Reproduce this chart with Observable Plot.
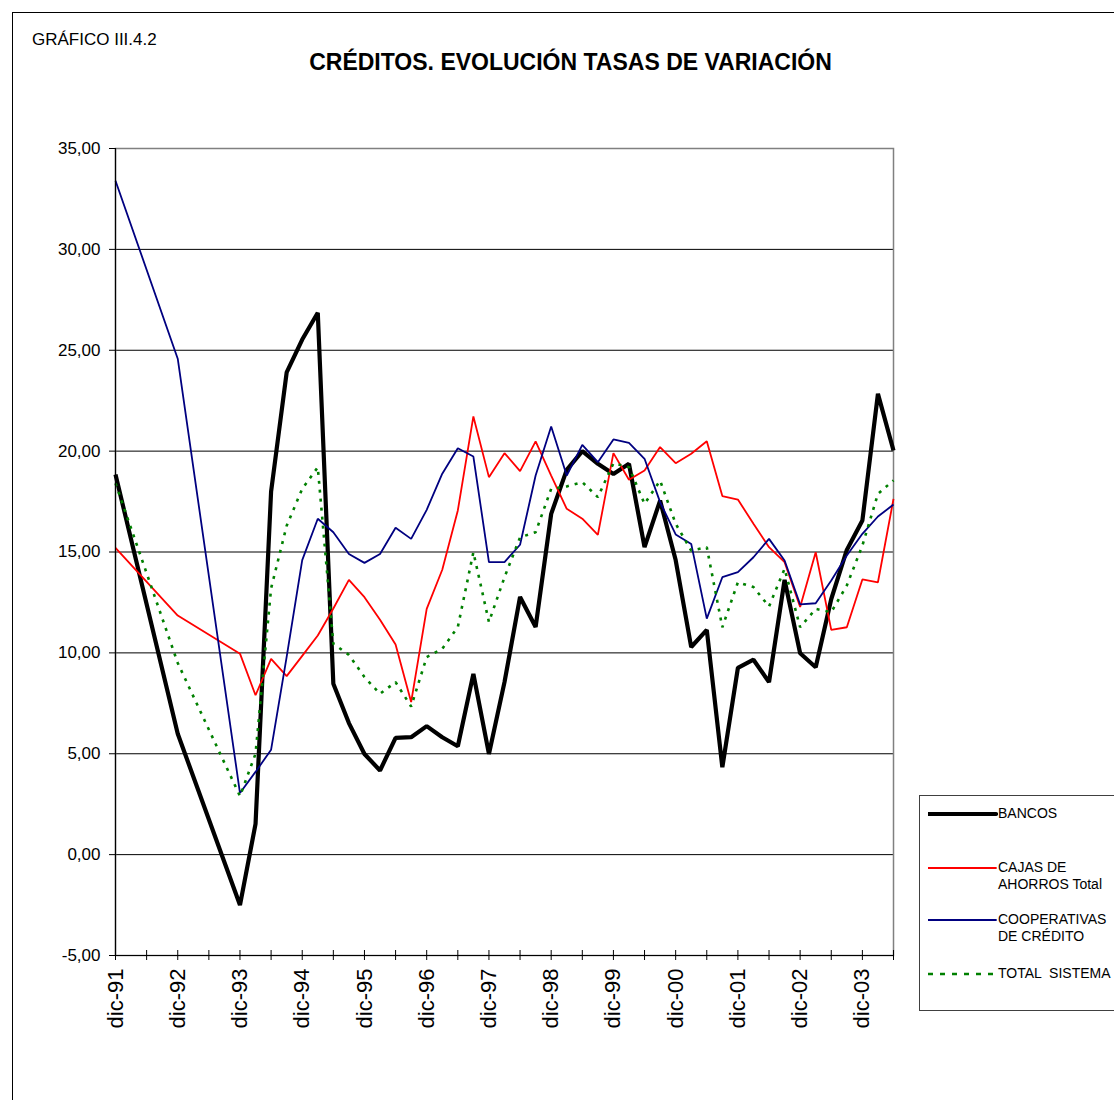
<!DOCTYPE html>
<html>
<head>
<meta charset="utf-8">
<script src="https://cdn.jsdelivr.net/npm/d3@7"></script>
<script src="https://cdn.jsdelivr.net/npm/@observablehq/plot@0.6"></script>
<style>
  html, body { margin: 0; padding: 0; background: #fff; overflow: hidden; }
  body { width: 1114px; height: 1100px; position: relative; font-family: "Liberation Sans", Arial, sans-serif; }
  #frame { position: absolute; left: 12px; top: 12px; width: 1200px; height: 1200px; border-left: 1px solid #000; border-top: 1px solid #000; }
  #chart { position: absolute; left: 0; top: 0; }
  #label { position: absolute; left: 32px; top: 30px; font-size: 17px; color: #000; white-space: nowrap; }
  #title { position: absolute; left: 0; width: 1141px; top: 49px; text-align: center; font-size: 23px; font-weight: bold; color: #000; white-space: nowrap; }
  #legend { position: absolute; left: 919px; top: 795px; width: 300px; height: 214px; border: 1px solid #404040; }
  .lg-text { position: absolute; left: 78px; font-size: 14px; line-height: 17px; color: #000; white-space: pre; }
  .lg-svg { position: absolute; left: 8px; }
</style>
</head>
<body>
<div id="frame"></div>
<div id="chart"></div>
<div id="label">GRÁFICO III.4.2</div>
<div id="title">CRÉDITOS. EVOLUCIÓN TASAS DE VARIACIÓN</div>
<div id="legend"></div>
<script>
// Periods (annual first, then quarterly)
const periods = ["dic-91","dic-92","dic-93","mar-94","jun-94","sep-94","dic-94","mar-95","jun-95","sep-95","dic-95","mar-96","jun-96","sep-96","dic-96","mar-97","jun-97","sep-97","dic-97","mar-98","jun-98","sep-98","dic-98","mar-99","jun-99","sep-99","dic-99","mar-00","jun-00","sep-00","dic-00","mar-01","jun-01","sep-01","dic-01","mar-02","jun-02","sep-02","dic-02","mar-03","jun-03","sep-03","dic-03","mar-04","jun-04"];

const bancos = [18.84, 5.99, -2.5, 1.52, 18.0, 23.9, 25.53, 26.86, 8.47, 6.52, 4.99, 4.17, 5.79, 5.82, 6.37, 5.82, 5.37, 8.96, 4.99, 8.55, 12.77, 11.28, 16.89, 19.07, 20.0, 19.37, 18.87, 19.37, 15.24, 17.55, 14.6, 10.29, 11.14, 4.33, 9.26, 9.66, 8.55, 13.62, 9.98, 9.29, 12.67, 15.1, 16.56, 22.84, 20.03];
const cajas = [15.2, 11.85, 9.96, 7.9, 9.7, 8.85, 9.85, 10.86, 12.2, 13.62, 12.76, 11.64, 10.42, 7.56, 12.18, 14.12, 17.06, 21.72, 18.71, 19.9, 19.01, 20.48, 18.79, 17.14, 16.65, 15.85, 19.9, 18.58, 19.04, 20.2, 19.4, 19.87, 20.49, 17.77, 17.6, 16.4, 15.24, 14.5, 12.27, 14.99, 11.14, 11.27, 13.64, 13.5, 17.63];
const cooperativas = [33.4, 24.58, 3.05, 4.1, 5.2, 9.8, 14.6, 16.65, 15.98, 14.9, 14.46, 14.9, 16.2, 15.65, 17.09, 18.88, 20.14, 19.73, 14.5, 14.5, 15.36, 18.79, 21.22, 18.79, 20.31, 19.45, 20.58, 20.41, 19.62, 17.47, 15.87, 15.4, 11.7, 13.75, 14.0, 14.74, 15.65, 14.58, 12.4, 12.46, 13.59, 14.83, 15.9, 16.76, 17.35];
const totalSistema = [18.4, 9.5, 2.9, 5.0, 13.2, 16.3, 18.13, 19.2, 10.45, 9.9, 8.8, 7.97, 8.55, 7.34, 9.79, 10.2, 11.28, 14.99, 11.53, 13.75, 15.73, 15.98, 18.13, 18.25, 18.46, 17.72, 19.4, 19.2, 17.39, 18.54, 16.4, 15.07, 15.24, 11.27, 13.5, 13.26, 12.3, 14.17, 11.27, 12.18, 12.02, 13.34, 15.32, 17.88, 18.55];

const seriesNames = ["BANCOS", "CAJAS DE\nAHORROS Total", "COOPERATIVAS\nDE CRÉDITO", "TOTAL  SISTEMA"];
const yTicks = [-5, 0, 5, 10, 15, 20, 25, 30, 35];

// quarter index: dic-91 = 0
const monthQ = {mar: 1, jun: 2, sep: 3, dic: 4};
function qIndex(p) {
  const [m, y] = p.split("-");
  const yy = +y < 50 ? 2000 + +y : 1900 + +y;
  return (yy - 1992) * 4 + monthQ[m];
}
const xs = periods.map(qIndex);
const labelOf = new Map(periods.map(p => [qIndex(p), p]));
const maxQ = d3.max(xs);
const semesterTicks = d3.range(0, maxQ + 1, 2);
const yearTicks = d3.range(0, maxQ + 1, 4);
const yearLabel = i => labelOf.get(i) ?? ("dic-" + String((1991 + i / 4) % 100).padStart(2, "0"));

const allSeries = [bancos, cajas, cooperativas, totalSistema];
const data = [];
allSeries.forEach((vals, s) => vals.forEach((v, i) => data.push({x: xs[i], y: v, s})));

const styles = [
  {stroke: "#000000", strokeWidth: 4.2},
  {stroke: "#FF0000", strokeWidth: 1.8},
  {stroke: "#000080", strokeWidth: 1.8},
  {stroke: "#008000", strokeWidth: 2.6, strokeDasharray: "3,6"}
];

const chart = Plot.plot({
  width: 1114,
  height: 1100,
  marginLeft: 115,
  marginRight: 221,
  marginTop: 148,
  marginBottom: 145,
  style: {fontFamily: "'Liberation Sans', Arial, sans-serif", background: "transparent", color: "#000"},
  x: {type: "linear", domain: [0, maxQ]},
  y: {domain: [-5, 35]},
  marks: [
    Plot.ruleY(yTicks.filter(v => v > -5 && v < 35), {stroke: "#000", strokeWidth: 1}),
    Plot.frame({stroke: "#808080", strokeWidth: 1.5}),
    ...styles.map((st, s) => Plot.line(data.filter(d => d.s === s), {x: "x", y: "y", ...st, strokeLinejoin: "miter", strokeLinecap: "butt"})),
    Plot.ruleX([0], {stroke: "#000", strokeWidth: 1.2}),
    Plot.ruleY([-5], {stroke: "#000", strokeWidth: 1.2}),
    Plot.ruleX(semesterTicks, {x: d => d, y1: -5, y2: -5, insetTop: -5, insetBottom: -5, stroke: "#000"}),
    Plot.axisY({ticks: yTicks, tickSize: 6, tickPadding: 9, fontSize: 17, tickFormat: d => d.toFixed(2).replace(".", ","), label: null}),
    Plot.axisX({ticks: yearTicks, tickSize: 0, tickPadding: 13, tickRotate: -90, fontSize: 22, tickFormat: yearLabel, label: null})
  ]
});
document.getElementById("chart").appendChild(chart);

// Legend
const legend = document.getElementById("legend");
const legendY = [18, 72, 124, 178]; // line centers relative to legend box
seriesNames.forEach((name, s) => {
  const st = styles[s];
  const svg = d3.create("svg").attr("class", "lg-svg").attr("width", 70).attr("height", 10)
    .style("top", (legendY[s] - 5) + "px");
  svg.append("line").attr("x1", 0).attr("x2", 68).attr("y1", 5).attr("y2", 5)
    .attr("stroke", st.stroke).attr("stroke-width", st.strokeWidth)
    .attr("stroke-dasharray", st.strokeDasharray ? "5,7" : null)
    .attr("stroke-linecap", st.strokeDasharray ? "butt" : "round");
  legend.appendChild(svg.node());
  const t = document.createElement("div");
  t.className = "lg-text";
  t.style.top = (legendY[s] - 9) + "px";
  t.textContent = name;
  legend.appendChild(t);
});
</script>
</body>
</html>
